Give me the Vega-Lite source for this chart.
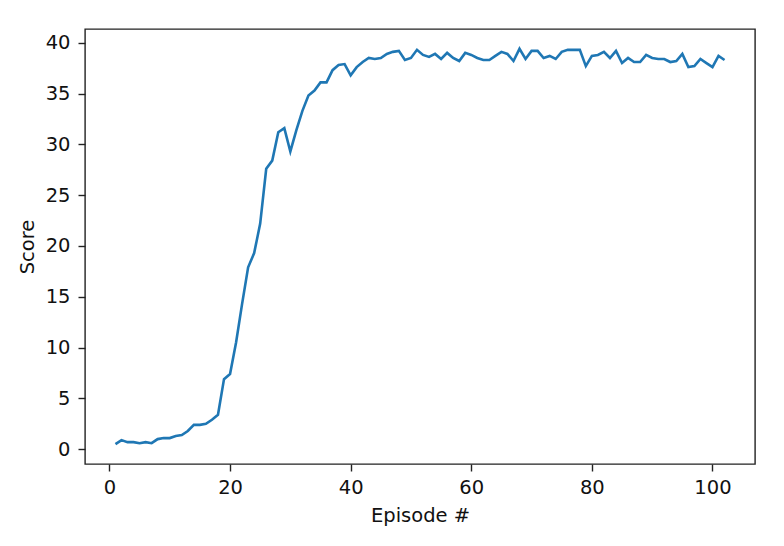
{
  "$schema": "https://vega.github.io/schema/vega-lite/v6.json",
  "autosize": {"type": "none"},
  "padding": {"left": 85, "top": 29, "right": 29, "bottom": 82},
  "width": 670,
  "height": 435,
  "background": "white",
  "config": {
    "view": {"stroke": "#222", "strokeWidth": 1.4},
    "font": "DejaVu Sans"
  },
  "data": {
    "values": [
      {"episode": 1, "score": 0.5}, {"episode": 2, "score": 0.9}, {"episode": 3, "score": 0.7},
      {"episode": 4, "score": 0.7}, {"episode": 5, "score": 0.6}, {"episode": 6, "score": 0.7},
      {"episode": 7, "score": 0.6}, {"episode": 8, "score": 1.0}, {"episode": 9, "score": 1.1},
      {"episode": 10, "score": 1.1}, {"episode": 11, "score": 1.3}, {"episode": 12, "score": 1.4},
      {"episode": 13, "score": 1.8}, {"episode": 14, "score": 2.4}, {"episode": 15, "score": 2.4},
      {"episode": 16, "score": 2.5}, {"episode": 17, "score": 2.9}, {"episode": 18, "score": 3.4},
      {"episode": 19, "score": 6.9}, {"episode": 20, "score": 7.4}, {"episode": 21, "score": 10.5},
      {"episode": 22, "score": 14.3}, {"episode": 23, "score": 17.9}, {"episode": 24, "score": 19.3},
      {"episode": 25, "score": 22.2}, {"episode": 26, "score": 27.6}, {"episode": 27, "score": 28.4},
      {"episode": 28, "score": 31.2}, {"episode": 29, "score": 31.6}, {"episode": 30, "score": 29.3},
      {"episode": 31, "score": 31.4}, {"episode": 32, "score": 33.3}, {"episode": 33, "score": 34.8},
      {"episode": 34, "score": 35.3}, {"episode": 35, "score": 36.1}, {"episode": 36, "score": 36.1},
      {"episode": 37, "score": 37.3}, {"episode": 38, "score": 37.8}, {"episode": 39, "score": 37.9},
      {"episode": 40, "score": 36.8}, {"episode": 41, "score": 37.6}, {"episode": 42, "score": 38.1},
      {"episode": 43, "score": 38.5}, {"episode": 44, "score": 38.4}, {"episode": 45, "score": 38.5},
      {"episode": 46, "score": 38.9}, {"episode": 47, "score": 39.1}, {"episode": 48, "score": 39.2},
      {"episode": 49, "score": 38.3}, {"episode": 50, "score": 38.5}, {"episode": 51, "score": 39.3},
      {"episode": 52, "score": 38.8}, {"episode": 53, "score": 38.6}, {"episode": 54, "score": 38.9},
      {"episode": 55, "score": 38.4}, {"episode": 56, "score": 39.0}, {"episode": 57, "score": 38.5},
      {"episode": 58, "score": 38.2}, {"episode": 59, "score": 39.0}, {"episode": 60, "score": 38.8},
      {"episode": 61, "score": 38.5}, {"episode": 62, "score": 38.3}, {"episode": 63, "score": 38.3},
      {"episode": 64, "score": 38.7}, {"episode": 65, "score": 39.1}, {"episode": 66, "score": 38.9},
      {"episode": 67, "score": 38.2}, {"episode": 68, "score": 39.4}, {"episode": 69, "score": 38.4},
      {"episode": 70, "score": 39.2}, {"episode": 71, "score": 39.2}, {"episode": 72, "score": 38.5},
      {"episode": 73, "score": 38.7}, {"episode": 74, "score": 38.4}, {"episode": 75, "score": 39.1},
      {"episode": 76, "score": 39.3}, {"episode": 77, "score": 39.3}, {"episode": 78, "score": 39.3},
      {"episode": 79, "score": 37.7}, {"episode": 80, "score": 38.7}, {"episode": 81, "score": 38.8},
      {"episode": 82, "score": 39.1}, {"episode": 83, "score": 38.5}, {"episode": 84, "score": 39.2},
      {"episode": 85, "score": 38.0}, {"episode": 86, "score": 38.5}, {"episode": 87, "score": 38.1},
      {"episode": 88, "score": 38.1}, {"episode": 89, "score": 38.8}, {"episode": 90, "score": 38.5},
      {"episode": 91, "score": 38.4}, {"episode": 92, "score": 38.4}, {"episode": 93, "score": 38.1},
      {"episode": 94, "score": 38.2}, {"episode": 95, "score": 38.9}, {"episode": 96, "score": 37.6},
      {"episode": 97, "score": 37.7}, {"episode": 98, "score": 38.4}, {"episode": 99, "score": 38.0},
      {"episode": 100, "score": 37.6}, {"episode": 101, "score": 38.7}, {"episode": 102, "score": 38.3}
    ]
  },
  "mark": {"type": "line", "color": "#1f77b4", "strokeWidth": 2.6, "clip": true},
  "encoding": {
    "x": {
      "field": "episode",
      "type": "quantitative",
      "scale": {"domain": [-4.05, 107.05], "nice": false, "zero": false},
      "axis": {
        "title": "Episode #",
        "values": [0, 20, 40, 60, 80, 100],
        "format": "d",
        "grid": false,
        "domain": false,
        "tickSize": 7,
        "tickWidth": 1.4,
        "tickColor": "#222",
        "labelPadding": 7,
        "labelFontSize": 19.5,
        "labelColor": "#111",
        "labelFont": "DejaVu Sans",
        "titleFont": "DejaVu Sans",
        "titleFontSize": 19.5,
        "titleFontWeight": "normal",
        "titleColor": "#111",
        "titleBaseline": "alphabetic",
        "titleY": 57
      }
    },
    "y": {
      "field": "score",
      "type": "quantitative",
      "scale": {"domain": [-1.45, 41.35], "nice": false, "zero": false},
      "axis": {
        "title": "Score",
        "values": [0, 5, 10, 15, 20, 25, 30, 35, 40],
        "format": "d",
        "grid": false,
        "domain": false,
        "tickSize": 7,
        "tickWidth": 1.4,
        "tickColor": "#222",
        "labelPadding": 8,
        "labelFontSize": 19.5,
        "labelColor": "#111",
        "labelFont": "DejaVu Sans",
        "titleFont": "DejaVu Sans",
        "titleFontSize": 19.5,
        "titleFontWeight": "normal",
        "titleColor": "#111",
        "titleBaseline": "alphabetic",
        "titleX": -52
      }
    }
  }
}
